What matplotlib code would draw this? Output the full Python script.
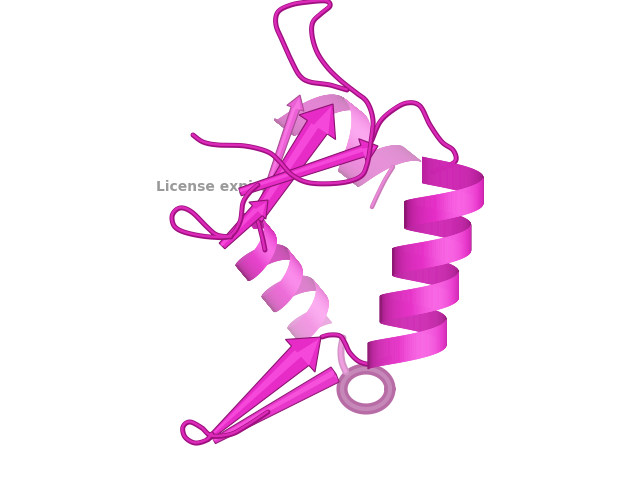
import numpy as np
import matplotlib
matplotlib.use("Agg")
import matplotlib.pyplot as plt
from matplotlib.collections import PolyCollection
from matplotlib.patches import Polygon

# ---------------- data: backbone control points (pixel space) ----------------
top_loop_x = [347, 330, 310, 300, 292, 283, 276, 278, 291, 308, 326, 330, 322, 313, 312, 317, 327, 340, 355, 367, 373, 371, 367, 360, 340, 310, 292, 280, 268, 245, 218, 203, 193]
top_loop_y = [90, 85, 82, 76, 62, 42, 25, 12, 5, 2, 1, 6, 13, 22, 35, 52, 67, 80, 92, 102, 120, 142, 165, 177, 183, 183, 175, 162, 152, 146, 145, 142, 135]

right_loop_x = [372, 380, 393, 407, 420, 430, 442, 453, 456, 448, 432]
right_loop_y = [140, 122, 110, 103, 106, 125, 142, 150, 160, 166, 172]

left_loop_x = [231, 217, 207, 193, 183, 176, 172, 175, 187, 210, 230, 240, 243, 250, 258]
left_loop_y = [237, 235, 227, 213, 208, 210, 217, 227, 233, 237, 236, 222, 203, 192, 185]

link_loop_x = [256, 260, 263, 265]
link_loop_y = [212, 228, 240, 250]

bottom_link_x = [322, 330, 340, 345, 350, 360, 373, 390]
bottom_link_y = [337, 335, 336, 343, 353, 362, 364, 358]

bottom_left_x = [268, 250, 232, 212, 202, 190, 183, 185, 195, 207, 212]
bottom_left_y = [412, 424, 434, 436, 428, 422, 427, 437, 443, 440, 434]

pale_line_x = [393, 385, 378, 372]
pale_line_y = [167, 180, 194, 207]

pale_drop_x = [343, 341, 342, 346]
pale_drop_y = [338, 350, 362, 372]

# helices: axis start, axis end, radius, turns, ribbon width, fog start/end, tilt
helix_names = ["right", "middle", "upper"]
helix_p0 = [(452, 172), (244, 236), (300, 102)]
helix_p1 = [(404, 356), (322, 330), (396, 178)]
helix_radius = [36, 25, 30]
helix_turns = [3.9, 3.0, 1.5]
helix_width = [26, 19, 24]
helix_fog = [(0.0, 0.05), (0.02, 0.62), (0.42, 0.5)]
helix_phase = [5.68, 4.2, 0.3]
helix_tilt = [0.1, 0.4, 0.3]
helix_level = [True, False, False]

# strands: start, tip, start width, shaft width, head width, head length, fog
strand_start = [(262, 205), (256, 218), (240, 192), (222, 246), (207, 440), (214, 441)]
strand_tip = [(300, 95), (333, 104), (378, 146), (268, 200), (321, 337), (336, 374)]
strand_w0 = [6, 14, 8, 8, 4, 6]
strand_shaft = [9, 24, 12, 14, 26, 17]
strand_head = [18, 44, 26, 24, 44, 17]
strand_headlen = [14, 28, 16, 15, 28, 1]
strand_fog = [0.25, 0.0, 0.0, 0.0, 0.0, 0.05]

# ---------------- styling ----------------
BRIGHT = np.array([1.00, 0.45, 0.93])
BASE = np.array([0.90, 0.17, 0.78])
DARK = np.array([0.55, 0.07, 0.44])


def fogged(c, f):
    return np.clip(np.asarray(c) * (1 - f) + f, 0, 1)


def smooth(xs, ys, n=14):
    P = np.column_stack([xs, ys]).astype(float)
    P = np.vstack([P[0], P, P[-1]])
    out = []
    t = np.linspace(0, 1, n, endpoint=False)[:, None]
    for i in range(1, len(P) - 2):
        p0, p1, p2, p3 = P[i - 1], P[i], P[i + 1], P[i + 2]
        out.append(0.5 * ((2 * p1) + (-p0 + p2) * t + (2 * p0 - 5 * p1 + 4 * p2 - p3) * t ** 2
                          + (-p0 + 3 * p1 - 3 * p2 + p3) * t ** 3))
    out.append(P[-2][None])
    return np.vstack(out)


def tube(ax, xs, ys, z, fog=0.0, lw=3.6):
    pts = smooth(xs, ys)
    ax.plot(pts[:, 0], pts[:, 1], color=fogged([0.62, 0.06, 0.50], fog), lw=lw,
            solid_capstyle='round', solid_joinstyle='round', zorder=z)
    ax.plot(pts[:, 0] - 0.4, pts[:, 1] - 0.5, color=fogged([0.86, 0.16, 0.72], fog), lw=lw * 0.5,
            solid_capstyle='round', solid_joinstyle='round', zorder=z + 0.01)


def helix(ax, p0, p1, radius, turns, width, phase, fog, tilt, level, z, handed=-1, N=700):
    p0 = np.array(p0, float)
    p1 = np.array(p1, float)
    axis = p1 - p0
    u = axis / np.linalg.norm(axis)
    if level:
        nrm = np.array([-1.0, 0.0])
        up = np.array([0.0, 1.0])
    else:
        nrm = np.array([-u[1], u[0]])
        up = u
    t = np.linspace(0, 1, N)
    th = phase + handed * 2 * np.pi * turns * t
    c = p0[None] + t[:, None] * axis[None]
    depth = np.sin(th)
    pos = c + radius * np.cos(th)[:, None] * nrm[None] + tilt * radius * depth[:, None] * up[None]
    h = width / 2 * up
    back, bc, front, fc = [], [], [], []
    for i in range(N - 1):
        q = [pos[i] - h, pos[i + 1] - h, pos[i + 1] + h, pos[i] + h]
        dm = 0.5 * (depth[i] + depth[i + 1])
        cm = np.cos(0.5 * (th[i] + th[i + 1]))
        f = fog[0] + (fog[1] - fog[0]) * t[i]
        if dm >= 0:
            s = max(0.0, min(1.0, dm * 0.9 - 0.35 * cm + 0.2)) ** 0.6
            col = DARK + (BASE - DARK) * s
            spec = max(0.0, dm) ** 3 * max(0.0, 0.2 - 0.8 * cm)
            col = col + (BRIGHT - col) * min(1, spec * 1.8)
            front.append(q)
            fc.append(fogged(col, f))
        else:
            s = abs(dm) ** 0.6
            col = DARK * 0.9 + (BASE * 0.9 - DARK * 0.9) * s
            back.append(q)
            bc.append(fogged(col, f))
    pcb = PolyCollection(back, facecolors=bc, edgecolors=bc, linewidths=0.5, zorder=z)
    pcf = PolyCollection(front, facecolors=fc, edgecolors=fc, linewidths=0.5, zorder=z + 0.2)
    ax.add_collection(pcb)
    ax.add_collection(pcf)


def strand(ax, s, e, w0, sw, hw, hl, fog, z):
    s = np.array(s, float)
    e = np.array(e, float)
    d = e - s
    u = d / np.linalg.norm(d)
    n = np.array([-u[1], u[0]])
    b = e - u * hl
    pts = [s + n * w0 / 2, b + n * sw / 2, b + n * hw / 2, e, b - n * hw / 2, b - n * sw / 2, s - n * w0 / 2]
    ax.add_patch(Polygon(pts, closed=True, facecolor=fogged(BASE, fog),
                         edgecolor=fogged(DARK, fog), lw=0.8, zorder=z))
    pts2 = [s + n * w0 * 0.05, b + n * sw * 0.05, b + n * hw * 0.3, e - u * 3,
            b - n * hw * 0.1, b - n * sw * 0.3, s - n * w0 * 0.3]
    ax.add_patch(Polygon(pts2, closed=True, facecolor=fogged([0.96, 0.28, 0.85], fog),
                         edgecolor='none', zorder=z + 0.01))


fig = plt.figure(figsize=(6.4, 4.8), dpi=100)
ax = fig.add_axes([0, 0, 1, 1])
ax.set_xlim(0, 640)
ax.set_ylim(480, 0)
ax.axis('off')

helix(ax, helix_p0[2], helix_p1[2], helix_radius[2], helix_turns[2], helix_width[2],
      helix_phase[2], helix_fog[2], helix_tilt[2], helix_level[2], z=2)
tube(ax, pale_line_x, pale_line_y, z=2.5, fog=0.45, lw=3.2)
tube(ax, pale_drop_x, pale_drop_y, z=2.5, fog=0.55, lw=5)
ring = np.linspace(0, 2 * np.pi, 80)
ax.plot(366 + 24 * np.cos(ring), 389 + 20 * np.sin(ring), color=fogged(DARK, 0.38), lw=8,
        zorder=2, solid_capstyle='round')
ax.plot(366 + 24 * np.cos(ring), 389 + 20 * np.sin(ring), color=fogged(DARK, 0.5), lw=3,
        zorder=2.1, solid_capstyle='round')

ax.text(156, 187, "License expired", fontsize=10, fontweight='bold', color='#9a9a9a',
        ha='left', va='center', family='DejaVu Sans', zorder=3)

helix(ax, helix_p0[1], helix_p1[1], helix_radius[1], helix_turns[1], helix_width[1],
      helix_phase[1], helix_fog[1], helix_tilt[1], helix_level[1], z=4)

tube(ax, link_loop_x, link_loop_y, z=4.8)
tube(ax, bottom_link_x, bottom_link_y, z=5)
for i in range(len(strand_start)):
    strand(ax, strand_start[i], strand_tip[i], strand_w0[i], strand_shaft[i], strand_head[i],
           strand_headlen[i], strand_fog[i], z=6 + 0.1 * i)
tube(ax, bottom_left_x, bottom_left_y, z=6.8)
tube(ax, left_loop_x, left_loop_y, z=7)
tube(ax, right_loop_x, right_loop_y, z=7)
tube(ax, top_loop_x, top_loop_y, z=7.5)

helix(ax, helix_p0[0], helix_p1[0], helix_radius[0], helix_turns[0], helix_width[0],
      helix_phase[0], helix_fog[0], helix_tilt[0], helix_level[0], z=8)

fig.savefig("out.png", dpi=100, facecolor='white')
